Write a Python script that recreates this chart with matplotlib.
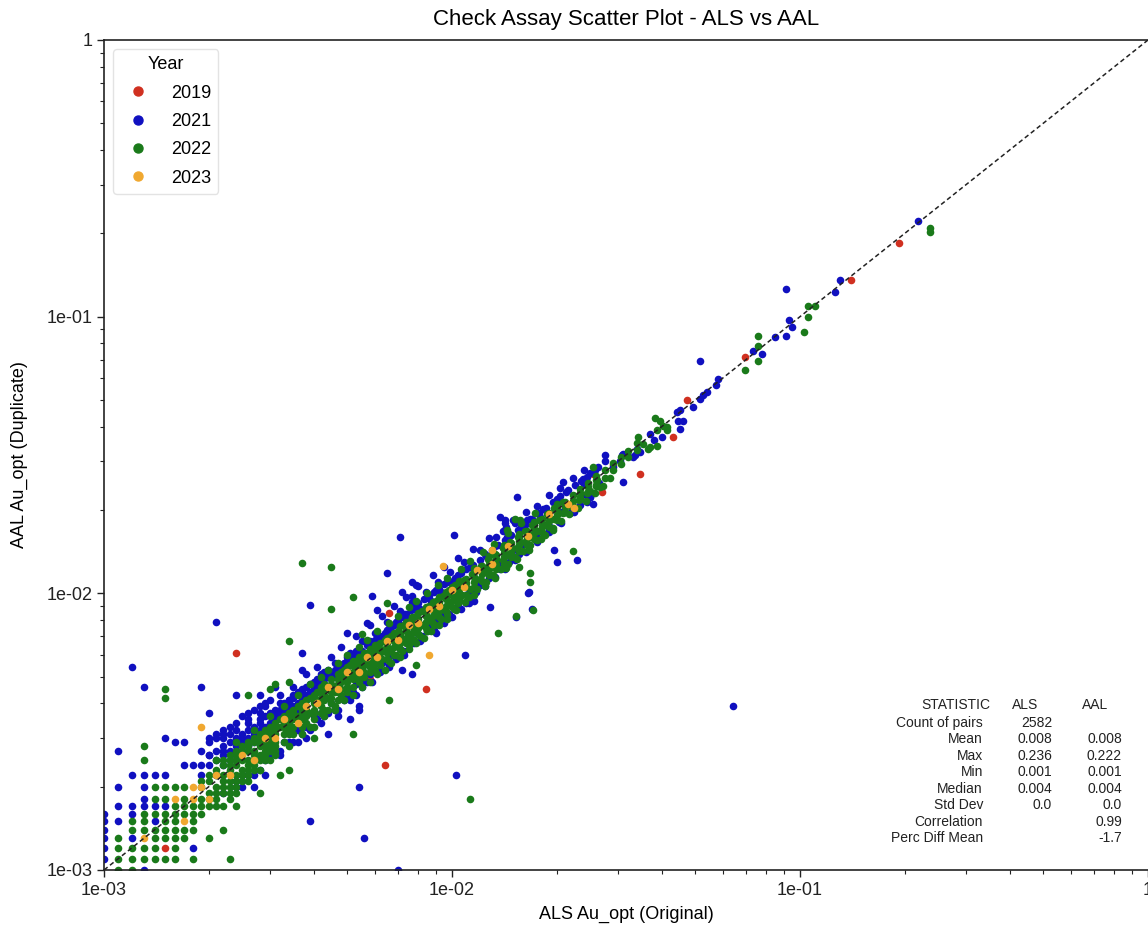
import numpy as np
import matplotlib
matplotlib.use("Agg")
import matplotlib.pyplot as plt
from matplotlib.lines import Line2D
from matplotlib.ticker import FuncFormatter, LogLocator, NullFormatter

plt.rcParams['font.family'] = ['Liberation Sans', 'DejaVu Sans']

# Au_opt check-assay pairs (ALS original, AAL duplicate), in units of 0.0001
UNIT = 1e-4

years = ["2019", "2021", "2022", "2023"]
year_colors = ["#d03020", "#1010c0", "#1a7a1a", "#f0a830"]

pairs_2019 = [
    (15, 12), (24, 61), (64, 24), (66, 85), (84, 45), (58, 49),
    (255, 270), (291, 290), (269, 232), (347, 270), (432, 367), (474, 500),
    (695, 713), (1400, 1360), (1930, 1840),
]

pairs_2021 = [
    # low-grade lattice
    (10, 11), (10, 12), (10, 13), (10, 14), (10, 15), (10, 16), (13, 10), (18, 12),
    (12, 13), (11, 15), (14, 15), (12, 16), (11, 17), (12, 17), (13, 17), (14, 17),
    (15, 17), (13, 18), (11, 20), (13, 20), (12, 22), (13, 22), (14, 22), (15, 22),
    (11, 27), (15, 30), (16, 29), (17, 29), (17, 24), (18, 24), (12, 54), (13, 46),
    (19, 46), (21, 79), (20, 37), (39, 15), (54, 20), (56, 13), (70, 10), (103, 22),
    # 0.002 - 0.003
    (19, 22), (19, 24), (20, 24), (20, 26), (21, 25), (21, 27), (22, 24), (22, 26),
    (22, 28), (23, 25), (23, 27), (23, 29), (24, 26), (24, 28), (24, 30), (25, 27),
    (25, 29), (25, 31), (26, 28), (26, 30), (26, 32), (27, 29), (27, 31), (27, 33),
    (28, 30), (28, 32), (28, 35), (29, 31), (29, 33), (29, 36), (30, 32), (30, 34),
    (30, 37), (20, 30), (21, 30), (22, 30), (21, 22),
    (19, 27), (20, 29), (21, 31), (22, 32), (23, 33), (24, 34), (25, 36), (26, 37),
    (27, 38), (28, 39), (29, 40), (30, 41), (28, 37), (26, 35), (24, 32), (22, 31),
    (28, 23), (29, 22), (25, 22), (25, 20), (27, 20), (22, 19), (24, 21), (26, 22),
    (30, 26), (31, 27),
    # 0.003 - 0.006
    (31, 35), (32, 36), (32, 38), (33, 37), (33, 40), (34, 38), (34, 41), (35, 39),
    (35, 43), (36, 40), (36, 44), (37, 42), (38, 43), (38, 46), (39, 44), (40, 45),
    (40, 48), (41, 46), (42, 48), (42, 51), (43, 49), (44, 50), (44, 53), (45, 51),
    (46, 53), (47, 54), (48, 55), (49, 56), (50, 57), (52, 59), (53, 61), (55, 62),
    (57, 65), (58, 67), (60, 68),
    (31, 37), (32, 40), (33, 36), (34, 40), (35, 42), (36, 38), (37, 44), (38, 41),
    (39, 47), (40, 44), (41, 49), (43, 47), (44, 52), (46, 50), (47, 55), (49, 53),
    (50, 59), (52, 57), (53, 62), (55, 60), (57, 66), (59, 64),
    (33, 29), (36, 32), (38, 33), (40, 36), (42, 37), (45, 40), (48, 42), (50, 45),
    (53, 47), (56, 50), (58, 51), (60, 53),
    (32, 27), (35, 29), (37, 31), (39, 32), (41, 35), (43, 36), (46, 38), (49, 41),
    (52, 44), (55, 46), (57, 48),
    (24, 43), (28, 43), (31, 46), (51, 35), (54, 38), (51, 41), (50, 44), (44, 31),
    (38, 30), (54, 39), (47, 36), (37, 61), (37, 53), (39, 91), (50, 72), (57, 78),
    (59, 98), (61, 87), (65, 118), (71, 160), (101, 163), (72, 101), (77, 110),
    (79, 107), (77, 98), (72, 53), (77, 51), (109, 60),
    # 0.006 - 0.01
    (62, 70), (64, 72), (66, 75), (68, 77), (70, 80), (72, 82), (74, 84), (76, 87),
    (78, 89), (80, 92), (83, 95), (86, 98), (89, 101), (92, 104), (95, 108), (98, 111),
    (61, 70), (63, 69), (65, 74), (67, 73), (69, 79), (71, 77), (73, 84), (75, 81),
    (78, 88), (81, 88), (84, 96), (87, 94), (90, 103), (93, 101), (97, 110), (100, 108),
    (63, 56), (67, 60), (71, 63), (75, 67), (80, 71), (85, 76), (90, 80), (95, 85),
    (62, 52), (66, 55), (69, 58), (73, 62), (78, 66), (82, 70), (87, 74), (93, 79),
    (98, 84), (90, 72), (95, 78), (100, 82), (106, 88), (112, 92),
    # 0.01 - 0.03
    (102, 114), (106, 118), (110, 122), (115, 127), (120, 132), (125, 137), (130, 143),
    (136, 150), (142, 156), (148, 162), (155, 170), (162, 177), (170, 186), (178, 195),
    (186, 204), (195, 213), (205, 224), (215, 236), (226, 247), (238, 259), (250, 272),
    (262, 286), (275, 300),
    (104, 116), (109, 105), (113, 125), (118, 112), (124, 139), (127, 122), (133, 148),
    (136, 128), (144, 160), (149, 142), (158, 174), (160, 151), (168, 186), (174, 163),
    (183, 201), (188, 177), (200, 219), (206, 196), (213, 233), (220, 208), (235, 255),
    (242, 227), (258, 280), (265, 250),
    (105, 94), (112, 100), (120, 107), (128, 114), (137, 122), (146, 130), (156, 139),
    (166, 148), (177, 158), (190, 170), (203, 181), (218, 195), (233, 208), (250, 223),
    (116, 94), (129, 89), (166, 101), (153, 82), (170, 88), (140, 168), (142, 184),
    (137, 189), (142, 179), (154, 223), (196, 144), (200, 130), (229, 132), (209, 252),
    (275, 315), (311, 252), (244, 263), (239, 249), (249, 223), (255, 211), (165, 100),
    (150, 184), (164, 184), (179, 188), (191, 173),
    # outer fringe above the 1:1 line
    (20, 26), (22, 27), (23, 31), (25, 30), (26, 34), (28, 34), (29, 39), (31, 38),
    (32, 43), (34, 41), (35, 46), (37, 45), (38, 51), (41, 54), (43, 52), (45, 59),
    (46, 56), (48, 64), (51, 61), (53, 70), (55, 67), (58, 77), (60, 72), (63, 83),
    (65, 79), (68, 90), (71, 86), (74, 97), (77, 93), (80, 106), (84, 101), (88, 116),
    (91, 110), (95, 124), (99, 119), (104, 134), (108, 130), (115, 145), (120, 144),
    (128, 158), (134, 160), (143, 174), (152, 180), (163, 196), (176, 207), (190, 226),
    (205, 240), (222, 262), (240, 280),
    # outer fringe below the 1:1 line
    (24, 20), (27, 22), (29, 25), (32, 26), (34, 29), (36, 29), (39, 33), (42, 34),
    (44, 37), (47, 38), (50, 43), (53, 43), (56, 48), (59, 48), (62, 53), (66, 54),
    (69, 59), (73, 60), (77, 66), (81, 67), (85, 73), (89, 74), (94, 81), (99, 82),
    (104, 90), (110, 92), (117, 101), (124, 106), (133, 115), (142, 122), (152, 132),
    (163, 141), (176, 153), (190, 166), (206, 180), (224, 196), (244, 214),
    # above 0.03
    (307, 315), (304, 302), (291, 286), (318, 319), (339, 333), (347, 324), (336, 315),
    (332, 310), (311, 319), (371, 377), (380, 357), (401, 367), (442, 452), (447, 421),
    (452, 458), (462, 421), (452, 393), (494, 471), (516, 504), (527, 519), (542, 533),
    (574, 568), (582, 596), (516, 690), (734, 754), (776, 733), (848, 842), (912, 854),
    (932, 973), (948, 915), (912, 1260), (1260, 1225), (1300, 1360), (2190, 2220),
    (643, 39),
]

pairs_2022 = [
    # low-grade lattice
    (11, 10), (12, 10), (11, 11), (12, 11), (13, 11), (14, 11), (15, 11), (16, 11),
    (18, 11), (23, 11), (11, 12), (12, 12), (13, 12), (14, 12), (16, 12), (11, 13),
    (14, 13), (15, 13), (16, 13), (17, 13), (20, 13), (12, 14), (13, 14), (14, 14),
    (15, 14), (16, 14), (17, 14), (18, 14), (22, 14), (12, 15), (13, 15), (15, 15),
    (16, 15), (18, 15), (13, 16), (14, 16), (15, 16), (16, 16), (17, 16), (18, 16),
    (16, 17), (17, 17), (18, 17), (14, 18), (15, 18), (17, 18), (14, 20), (15, 20),
    (16, 20), (17, 20), (13, 25), (13, 28), (15, 45), (15, 42), (24, 17), (28, 19),
    (21, 17), (23, 18), (26, 21), (24, 19), (113, 18),
    # 0.002 - 0.003
    (19, 17), (19, 18), (19, 20), (19, 21), (20, 17), (20, 18), (20, 19), (20, 21),
    (20, 22), (21, 18), (21, 19), (21, 20), (21, 22), (21, 23), (22, 17), (22, 19),
    (22, 20), (22, 21), (22, 22), (22, 24), (23, 20), (23, 21), (23, 23), (23, 24),
    (23, 25), (24, 20), (24, 21), (24, 22), (24, 24), (24, 25), (24, 26), (25, 21),
    (25, 22), (25, 23), (25, 25), (25, 26), (25, 27), (26, 23), (26, 24), (26, 25),
    (26, 27), (26, 28), (27, 24), (27, 25), (27, 26), (27, 27), (27, 29), (28, 25),
    (28, 26), (28, 28), (28, 29), (28, 30), (29, 26), (29, 27), (29, 28), (29, 29),
    (29, 31), (30, 27), (30, 28), (30, 29), (30, 30), (30, 31), (30, 32),
    (19, 16), (22, 25), (23, 26), (24, 27), (25, 28), (26, 29), (27, 30), (28, 31),
    (29, 32), (30, 33), (27, 23), (29, 25), (30, 25),
    # 0.003 - 0.006
    (31, 28), (31, 29), (31, 31), (31, 32), (31, 34), (33, 29), (33, 31), (33, 33),
    (33, 34), (33, 36), (34, 31), (34, 32), (34, 34), (34, 36), (34, 37), (35, 31),
    (35, 33), (35, 35), (35, 37), (35, 38), (37, 33), (37, 35), (37, 37), (37, 38),
    (37, 40), (38, 34), (38, 36), (38, 38), (38, 39), (38, 41), (40, 35), (40, 37),
    (40, 38), (40, 40), (40, 42), (40, 43), (42, 37), (42, 39), (42, 41), (42, 42),
    (42, 44), (42, 46), (43, 38), (43, 41), (43, 43), (43, 45), (43, 47), (45, 40),
    (45, 42), (45, 44), (45, 45), (45, 47), (45, 49), (47, 41), (47, 44), (47, 46),
    (47, 47), (47, 49), (47, 51), (48, 43), (48, 45), (48, 48), (48, 50), (48, 52),
    (50, 44), (50, 46), (50, 48), (50, 50), (50, 52), (50, 54), (52, 46), (52, 49),
    (52, 51), (52, 52), (52, 55), (52, 57), (54, 48), (54, 50), (54, 53), (54, 54),
    (54, 56), (54, 59), (56, 50), (56, 52), (56, 55), (56, 56), (56, 58), (56, 61),
    (58, 52), (58, 54), (58, 57), (58, 58), (58, 60), (58, 63), (60, 53), (60, 56),
    (60, 59), (60, 60), (60, 62), (60, 65),
    (31, 27), (32, 33), (32, 35), (34, 37), (36, 36), (36, 39), (39, 33), (39, 37),
    (39, 42), (41, 41), (41, 44), (44, 38), (44, 42), (46, 39), (46, 44), (49, 49),
    (49, 53), (51, 51), (51, 55), (53, 53), (53, 57), (55, 55), (55, 59), (57, 57),
    (57, 61), (59, 59), (59, 63), (61, 61), (61, 65),
    # 0.006 - 0.01
    (62, 55), (62, 58), (62, 61), (62, 63), (62, 66), (65, 58), (65, 61), (65, 64),
    (65, 66), (65, 69), (68, 60), (68, 64), (68, 67), (68, 69), (68, 72), (71, 63),
    (71, 66), (71, 70), (71, 72), (71, 76), (74, 66), (74, 69), (74, 73), (74, 75),
    (74, 79), (77, 68), (77, 72), (77, 76), (77, 78), (77, 82), (80, 71), (80, 75),
    (80, 79), (80, 81), (80, 85), (84, 75), (84, 79), (84, 83), (84, 85), (84, 89),
    (88, 78), (88, 83), (88, 87), (88, 89), (88, 93), (92, 82), (92, 86), (92, 91),
    (92, 93), (92, 97), (96, 86), (96, 90), (96, 95), (96, 97), (96, 101), (100, 89),
    (100, 94), (100, 99), (100, 101), (100, 105),
    (63, 58), (64, 63), (64, 68), (66, 57), (67, 62), (67, 70), (69, 60), (70, 65),
    (70, 73), (72, 62), (73, 68), (73, 77), (75, 65), (76, 71), (76, 80), (78, 68),
    (79, 74), (79, 83), (81, 70), (82, 77), (82, 86), (85, 73), (86, 80), (86, 90),
    (89, 77), (90, 84), (90, 94), (93, 81), (94, 88), (94, 98), (97, 84), (98, 92),
    (98, 103), (101, 88), (102, 96), (102, 107),
    # 0.01 - 0.034
    (105, 95), (105, 100), (105, 104), (105, 107), (105, 111), (110, 99), (110, 105),
    (110, 109), (110, 113), (116, 105), (116, 110), (116, 115), (116, 119), (116, 123),
    (122, 111), (122, 117), (122, 121), (122, 126), (128, 116), (128, 122), (128, 127),
    (128, 131), (128, 136), (134, 122), (134, 128), (134, 133), (134, 138), (141, 128),
    (141, 135), (141, 140), (141, 145), (141, 149), (148, 135), (148, 141), (148, 147),
    (148, 152), (156, 142), (156, 149), (156, 155), (156, 160), (156, 164), (164, 150),
    (164, 157), (164, 163), (164, 168), (172, 157), (172, 165), (172, 171), (172, 176),
    (172, 181), (181, 166), (181, 173), (181, 180), (181, 186), (190, 174), (190, 182),
    (190, 189), (190, 195), (200, 184), (200, 192), (200, 199), (200, 205), (200, 210),
    (211, 196), (211, 205), (211, 214), (222, 206), (222, 216), (222, 226), (234, 219),
    (234, 230), (234, 238), (246, 232), (246, 242), (246, 251), (260, 246), (260, 256),
    (260, 266), (275, 262), (275, 278), (290, 280), (290, 296), (305, 294), (305, 312),
    (320, 310), (320, 328), (340, 330), (340, 350),
    (104, 92), (107, 99), (108, 112), (112, 97), (113, 104), (114, 117), (118, 104),
    (120, 113), (121, 126), (125, 110), (127, 119), (127, 133), (131, 116), (133, 125),
    (133, 139), (138, 122), (140, 132), (140, 146), (145, 128), (147, 139), (147, 153),
    (152, 135), (154, 146), (155, 160), (160, 142), (162, 153), (162, 168), (168, 149),
    (170, 160), (170, 176), (176, 156), (178, 168), (178, 184), (185, 163), (187, 176),
    (187, 193), (195, 172), (197, 185), (197, 203), (206, 182), (208, 195), (208, 214),
    (217, 193), (219, 206), (230, 204), (231, 218), (243, 216), (245, 230), (257, 230),
    (259, 244), (272, 244), (285, 262),
    # outer fringe above the 1:1 line
    (21, 25), (24, 29), (27, 32), (30, 36), (33, 39), (36, 43), (39, 47), (42, 50),
    (44, 53), (47, 56), (50, 60), (54, 64), (57, 68), (61, 73), (66, 78), (70, 83),
    (75, 89), (79, 94), (85, 100), (91, 107), (97, 114), (106, 122), (113, 131),
    (123, 141), (132, 151), (145, 165), (158, 179), (173, 195),
    # outer fringe below the 1:1 line
    (23, 19), (26, 22), (28, 23), (31, 26), (34, 28), (37, 31), (40, 33), (43, 36),
    (46, 38), (49, 41), (52, 43), (55, 46), (58, 48), (61, 51), (64, 53), (67, 56),
    (71, 59), (75, 63), (79, 66), (83, 69), (87, 73), (92, 77), (97, 81), (103, 87),
    (109, 93), (116, 99), (124, 106), (133, 114), (143, 123), (154, 133), (166, 144),
    (180, 157), (195, 170),
    # off-line pairs
    (37, 129), (45, 125), (45, 88), (52, 97), (34, 67), (65, 92), (55, 71), (66, 41),
    (79, 55), (136, 72), (153, 83), (171, 87), (167, 118), (167, 110), (156, 125),
    (222, 142), (152, 186), (157, 184), (144, 169), (30, 45), (31, 47), (34, 48),
    (52, 31), (40, 30), (34, 23), (32, 22), (26, 43),
    # above 0.025
    (255, 286), (261, 256), (266, 242), (249, 235), (233, 223), (343, 367), (355, 347),
    (366, 333), (371, 337), (387, 342), (383, 431), (396, 419), (405, 404), (414, 399),
    (387, 389), (414, 389), (695, 642), (759, 694), (759, 786), (759, 854), (1027, 878),
    (1057, 1000), (1057, 1096), (1104, 1096), (2360, 2100), (2360, 2030),
]

pairs_2023 = [
    (13, 13), (17, 15), (16, 18), (18, 18), (18, 20), (20, 18), (19, 20),
    (21, 22), (23, 22), (25, 26), (27, 25), (29, 30), (31, 30), (33, 35), (36, 34),
    (38, 39), (41, 40), (44, 46), (47, 45), (50, 52), (54, 52), (57, 59), (61, 59),
    (65, 67), (70, 68), (75, 77), (80, 78), (86, 88), (92, 90), (100, 103), (108, 105),
    (118, 121), (130, 128), (130, 144), (145, 148), (165, 161), (190, 194), (215, 211),
    (224, 203), (19, 33), (86, 60), (94, 126),
]

year_pairs = [pairs_2019, pairs_2021, pairs_2022, pairs_2023]

stat_names = ["Count of pairs", "Mean", "Max", "Min", "Median", "Std Dev",
              "Correlation", "Perc Diff Mean"]
als_stats = ["2582", "0.008", "0.236", "0.001", "0.004", "0.0", "", ""]
aal_stats = ["", "0.008", "0.222", "0.001", "0.004", "0.0", "0.99", "-1.7"]

W, H = 1148, 932
fig = plt.figure(figsize=(W / 100, H / 100), dpi=100)
ax = fig.add_axes([104 / W, 1 - 870 / H, 1 - 104 / W, (870 - 40) / H])

for label, color, pairs in zip(years, year_colors, year_pairs):
    arr = np.array(pairs, dtype=float) * UNIT
    ax.scatter(arr[:, 0], arr[:, 1], s=30, color=color, linewidths=0, zorder=2)

ax.plot([1e-3, 1], [1e-3, 1], ls=(0, (3, 2)), color="#222222", lw=1.1, zorder=3)

ax.set_xscale("log")
ax.set_yscale("log")
ax.set_xlim(1e-3, 1)
ax.set_ylim(1e-3, 1)

fmt = FuncFormatter(lambda v, pos: "1" if abs(v - 1) < 1e-9 else f"{v:.0e}")
for axis in (ax.xaxis, ax.yaxis):
    axis.set_major_locator(LogLocator(base=10, numticks=10))
    axis.set_minor_locator(LogLocator(base=10, subs=np.arange(2, 10), numticks=10))
    axis.set_major_formatter(fmt)
    axis.set_minor_formatter(NullFormatter())
ax.tick_params(which="major", length=5, width=1, labelsize=13, colors="#222222")
ax.tick_params(which="minor", length=3, width=0.8, colors="#222222")

for side in ("left", "bottom", "top"):
    ax.spines[side].set_color("#222222")
    ax.spines[side].set_linewidth(1.2)
ax.spines["right"].set_visible(False)

ax.set_title("Check Assay Scatter Plot - ALS vs AAL", fontsize=16, pad=11)
ax.set_xlabel("ALS Au_opt (Original)", fontsize=13, labelpad=5)
ax.set_ylabel("AAL Au_opt (Duplicate)", fontsize=13, labelpad=13)

handles = [Line2D([], [], marker="o", ls="", color=c, markersize=6.5) for c in year_colors]
leg = ax.legend(handles, years, title="Year", loc="upper left", fontsize=13,
                title_fontsize=13, frameon=True, labelspacing=0.63)
leg.get_frame().set_edgecolor("#dddddd")

# summary statistics block
stat_fs = 10
col_label = 983 / W
col_als = 1052 / W
col_aal = 1122 / W
y0 = 705
fig.text(990 / W, 1 - y0 / H, "STATISTIC", ha="right", va="center", fontsize=stat_fs, color="#222222")
fig.text(1025 / W, 1 - y0 / H, "ALS", ha="center", va="center", fontsize=stat_fs, color="#222222")
fig.text(1095 / W, 1 - y0 / H, "AAL", ha="center", va="center", fontsize=stat_fs, color="#222222")
for i, (name, a, b) in enumerate(zip(stat_names, als_stats, aal_stats)):
    yy = 1 - (722.7 + i * 16.5) / H
    fig.text(col_label, yy, name, ha="right", va="center", fontsize=stat_fs, color="#222222")
    if a:
        fig.text(col_als, yy, a, ha="right", va="center", fontsize=stat_fs, color="#222222")
    if b:
        fig.text(col_aal, yy, b, ha="right", va="center", fontsize=stat_fs, color="#222222")

fig.savefig("out.png", dpi=100)
